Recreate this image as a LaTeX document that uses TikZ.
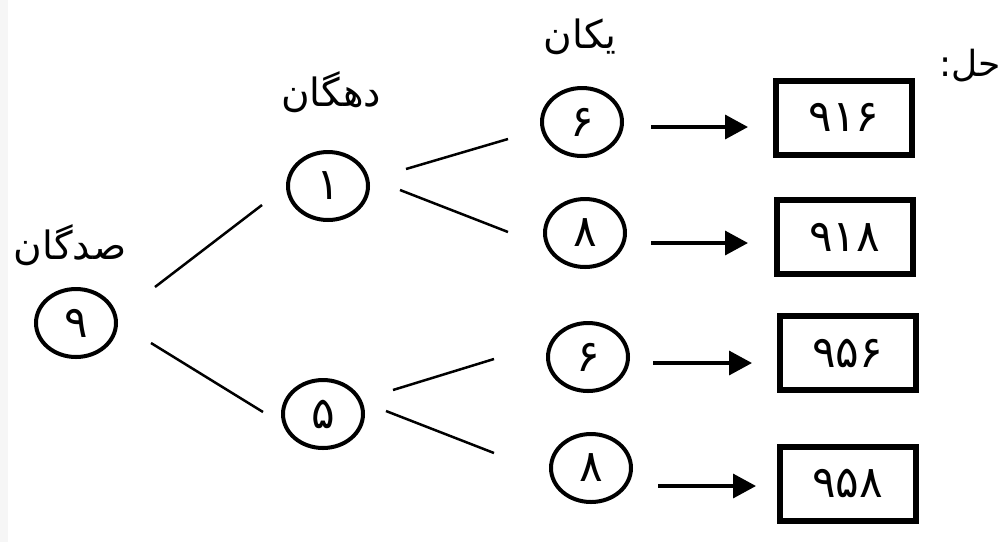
\documentclass[tikz,border=0pt]{standalone}
\usepackage{fontspec}
\usetikzlibrary{shapes.geometric,arrows.meta,calc}
\newfontfamily\arabicfont[Script=Arabic]{DejaVu Sans}
\TeXXeTstate=1
\begin{document}
\begin{tikzpicture}[x=1pt,y=-1pt,
  ring/.style={ellipse, draw, line width=4pt, minimum width=80pt, minimum height=68pt, inner sep=0pt,
    font=\arabicfont\fontsize{44}{52}\selectfont},
  numbox/.style={rectangle, draw, line width=6pt, minimum width=136pt, minimum height=74pt, inner sep=0pt,
    font=\arabicfont\fontsize{44}{52}\selectfont},
  conn/.style={line width=2.5pt},
  arr/.style={line width=3.5pt, -{Triangle[length=23pt,width=24pt]}},
  lbl/.style={font=\arabicfont\fontsize{39}{46}\selectfont, inner sep=0pt}]
\useasboundingbox (0,0) rectangle (1006,542);
\fill[gray!7] (0,0) rectangle (8,542);
% labels
\node[lbl] (lh) at (70,245) {\beginR صدگان\endR};
\node[lbl] (lt) at (331,92) {\beginR دهگان\endR};
\node[lbl] (lu) at (580,37) {\beginR یکان\endR};
\node[lbl, font=\arabicfont\fontsize{36}{42}\selectfont] (ls) at (970,66) {:\beginR حل\endR};
% circles
\node[ring] (n9) at (76,323) {۹};
\node[ring] (n1) at (328,186) {۱};
\node[ring] (n5) at (323,414) {۵};
\node[ring] (n6a) at (582,122) {۶};
\node[ring] (n8a) at (585,233) {۸};
\node[ring] (n6b) at (588,357) {۶};
\node[ring] (n8b) at (591,468) {۸};
% boxes
\node[numbox] (b916) at (844,117.5) {۹۱۶};
\node[numbox] (b918) at (844.5,237) {۹۱۸};
\node[numbox] (b956) at (847.5,353) {۹۵۶};
\node[numbox] (b958) at (847.5,483.5) {۹۵۸};
% tree connectors
\draw[conn] ($(n9)+(79,-36)$) -- ($(n1)+(-66,19)$);
\draw[conn] ($(n9)+(75,20)$) -- ($(n5)+(-60,-2)$);
\draw[conn] ($(n1)+(78,-17)$) -- ($(n6a)+(-74,17)$);
\draw[conn] ($(n1)+(72,4)$) -- ($(n8a)+(-77,-1)$);
\draw[conn] ($(n5)+(70,-24)$) -- ($(n6b)+(-94,2)$);
\draw[conn] ($(n5)+(63,-3)$) -- ($(n8b)+(-97,-15)$);
% arrows
\draw[arr] ($(n6a)+(69,5)$) -- ($(b916)+(-96,9.5)$);
\draw[arr] ($(n8a)+(66,10)$) -- ($(b918)+(-96.5,6)$);
\draw[arr] ($(n6b)+(65,6)$) -- ($(b956)+(-95.5,10)$);
\draw[arr] ($(n8b)+(67,18)$) -- ($(b958)+(-91.5,2.5)$);
\end{tikzpicture}
\end{document}
